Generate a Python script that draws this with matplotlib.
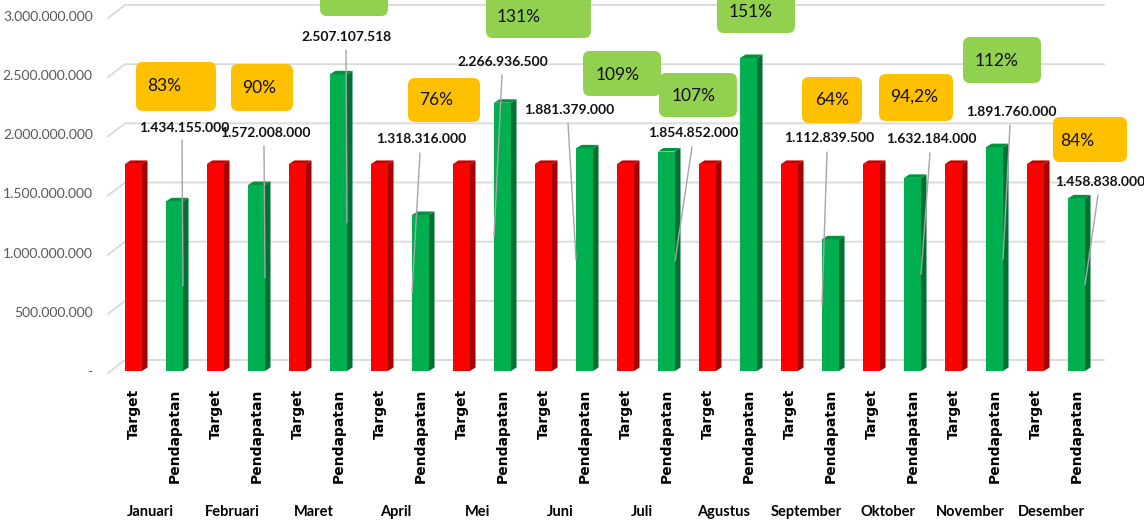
import matplotlib
matplotlib.use("Agg")
import matplotlib.pyplot as plt
from matplotlib.patches import Polygon, FancyBboxPatch
from matplotlib.transforms import IdentityTransform, blended_transform_factory

months = ["Januari", "Februari", "Maret", "April", "Mei", "Juni", "Juli",
          "Agustus", "September", "Oktober", "November", "Desember"]
target = [1750000000] * 12
pendapatan = [1434155000, 1572008000, 2507107518, 1318316000, 2266936500,
              1881379000, 1854852000, 2645000000, 1112839500, 1632184000,
              1891760000, 1458838000]
value_text = ["1.434.155.000", "1.572.008.000", "2.507.107.518", "1.318.316.000",
              "2.266.936.500", "1.881.379.000", "1.854.852.000", None,
              "1.112.839.500", "1.632.184.000", "1.891.760.000", "1.458.838.000"]
pct_text = ["83%", "90%", "143%", "76%", "131%", "109%", "107%", "151%",
            "64%", "94,2%", "112%", "84%"]
y_ticks = [0, 500000000, 1000000000, 1500000000, 2000000000, 2500000000, 3000000000]
y_tick_labels = ["-", "500.000.000", "1.000.000.000", "1.500.000.000",
                 "2.000.000.000", "2.500.000.000", "3.000.000.000"]

# label layout (image pixels, origin top-left)
lbl_pos = [(184, 128), (265, 133), (347, 37), (421, 139), (503, 62), (569, 110),
           (693, 133), None, (829, 138), (931, 139), (1011, 112), (1100, 182)]
lead_start = [(182, 140), (264, 146), (346, 50), (420, 153), (502, 75), (568, 123),
              (692, 147), None, (827, 152), (930, 153), (1010, 125), (1098, 195)]
lead_side = [1, 1, 1, -1, -1, -1, 1, 0, -1, 1, 1, 1]
pct_box = [(136, 62, 216, 111), (231, 64, 293, 111), (320, -31, 388, 16),
           (408, 78, 480, 122), (486, -8, 591, 38), (583, 51, 661, 96),
           (659, 73, 737, 117), (717, -12, 795, 33), (802, 77, 862, 123),
           (879, 74, 953, 121), (963, 37, 1041, 83), (1053, 117, 1127, 162)]
pct_pos = [(164, 86), (259, 88), (352, -6), (436, 100), (519, 17), (618, 75),
           (694, 96), (751, 12), (832, 100), (914, 97), (997, 61), (1077, 141)]

W, H = 1144, 521
fig = plt.figure(figsize=(W / 100, H / 100), dpi=100)
ax = fig.add_axes([108 / W, 150 / H, 996 / W, 355 / H])
ax.set_xlim(-0.622, 23.67)
ax.set_ylim(0, 3e9)
for s in ax.spines.values():
    s.set_visible(False)

px_x = 41.0            # pixels per bar slot
px_y = 355 / 3e9       # pixels per unit value
bw = 17 / px_x
ddx, ddy = 5.5 / px_x, 3.5 / px_y

# back-wall gridlines with slanted left part
wall_dx, wall_dy = 17 / px_x, 11 / px_y
x0 = -0.622
for v in y_ticks:
    ax.plot([x0, x0 + wall_dx, 23.67], [v - 2 / px_y, v + wall_dy, v + wall_dy],
            color="#d9d9d9", lw=1.3, zorder=1, clip_on=False)

def bar3d(x, v, front, side, top):
    l, r = x - bw / 2, x + bw / 2
    ax.add_patch(Polygon([(l, 0), (r, 0), (r, v), (l, v)], closed=True,
                         fc=front, ec="none", zorder=3))
    ax.add_patch(Polygon([(r, 0), (r + ddx, ddy), (r + ddx, v + ddy), (r, v)],
                         closed=True, fc=side, ec="none", zorder=3))
    ax.add_patch(Polygon([(l, v), (r, v), (r + ddx, v + ddy), (l + ddx, v + ddy)],
                         closed=True, fc=top, ec="none", zorder=3))

xticks, xlabels = [], []
for i in range(12):
    xt, xp = 2 * i, 2 * i + 1
    bar3d(xt, target[i], "#ff0000", "#a50000", "#c80000")
    bar3d(xp, pendapatan[i], "#00b050", "#007034", "#00933f")
    xticks += [xt, xp]
    xlabels += ["Target", "Pendapatan"]

ax.set_xticks(xticks)
ax.set_xticklabels(xlabels, rotation=90, fontweight="bold", fontsize=10,
                   family="DejaVu Sans", va="top")
ax.set_yticks(y_ticks)
ax.set_yticklabels(y_tick_labels, fontsize=10, family="Lato", color="#595959")
ax.tick_params(axis="x", length=0, pad=13)
ax.tick_params(axis="y", length=0, pad=11)

bt = blended_transform_factory(ax.transData, IdentityTransform())
for i, m in enumerate(months):
    ax.text(2 * i + 0.4, H - 512, m, transform=bt, ha="center", va="center",
            fontsize=10.5, fontweight="bold", family="Lato")

# value labels with leader lines
for i in range(12):
    if value_text[i] is None:
        continue
    lx, ly = lbl_pos[i]
    fig.text(lx, H - ly, value_text[i], transform=IdentityTransform(),
             ha="center", va="center", fontsize=10, fontweight="bold",
             family="Lato", color="#111111")
    sx, sy = lead_start[i]
    ax.annotate("", xy=(2 * i + 1 + lead_side[i] * bw / 2, pendapatan[i] / 2),
                xytext=(sx, H - sy), textcoords="figure pixels",
                arrowprops=dict(arrowstyle="-", color="#a6a6a6", lw=1.0,
                                shrinkA=0, shrinkB=0),
                annotation_clip=False, zorder=4)

# percentage boxes
for i in range(12):
    x1, y1, x2, y2 = pct_box[i]
    col = "#92d050" if pendapatan[i] >= target[i] else "#ffc000"
    fig.add_artist(FancyBboxPatch((x1, H - y2), x2 - x1, y2 - y1,
                                  boxstyle="round,pad=0,rounding_size=7",
                                  transform=IdentityTransform(), fc=col, ec="none"))
    tx, ty = pct_pos[i]
    fig.text(tx, H - ty, pct_text[i], transform=IdentityTransform(),
             ha="center", va="center", fontsize=12.5, family="Lato", color="#111111")

fig.savefig("out.png", dpi=100)
